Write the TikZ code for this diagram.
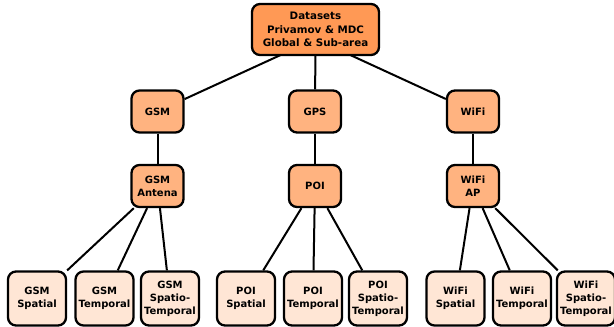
\documentclass[tikz,border=0pt]{standalone}
\usepackage{fontspec}
\setmainfont{DejaVu Sans}
\pgfdeclarelayer{bg}
\pgfsetlayers{bg,main}
\begin{document}
\begin{tikzpicture}[x=1pt,y=-1pt,
  box/.style={draw=black,line width=2.3pt,rounded corners=8pt,align=center,
    font=\bfseries\fontsize{10}{13}\selectfont,inner sep=0pt},
  topbox/.style={box,fill=topc,minimum width=127pt,minimum height=51pt,font=\bfseries\fontsize{10.3}{13.3}\selectfont},
  midbox/.style={box,fill=midc,minimum width=52pt,minimum height=42pt},
  leafbox/.style={box,fill=leafc,minimum width=58pt,minimum height=54pt},
  conn/.style={line width=2pt}]
\definecolor{topc}{HTML}{FF9955}
\definecolor{midc}{HTML}{FFB380}
\definecolor{leafc}{HTML}{FFE6D5}
\useasboundingbox (0,0) rectangle (614,327);
\node[topbox] (top) at (315.5,29.5) {Datasets\\Privamov \& MDC\\Global \& Sub-area};
\coordinate (topo) at (315.5,39);
\node[midbox] (gsm) at (157.5,111.5) {GSM};
\node[midbox] (gps) at (315,111.5) {GPS};
\node[midbox] (wifi) at (473,111.5) {WiFi};
\node[midbox] (ant) at (157.5,186) {GSM\\Antena};
\node[midbox] (poi) at (315,186) {POI};
\node[midbox] (ap) at (473,186) {WiFi\\AP};
\node[leafbox] (gs) at (37,298.5) {GSM\\Spatial};
\node[leafbox] (gt) at (104.5,298.5) {GSM\\Temporal};
\node[leafbox] (gst) at (170,298.5) {GSM\\Spatio-\\Temporal};
\node[leafbox] (ps) at (246,298.5) {POI\\Spatial};
\node[leafbox] (pt) at (313,298.5) {POI\\Temporal};
\node[leafbox] (pst) at (378,298.5) {POI\\Spatio-\\Temporal};
\node[leafbox] (ws) at (455.5,298.5) {WiFi\\Spatial};
\node[leafbox] (wt) at (522,298.5) {WiFi\\Temporal};
\node[leafbox] (wst) at (586,298.5) {WiFi\\Spatio-\\Temporal};
\begin{pgfonlayer}{bg}
\draw[conn] (topo) -- (gsm);
\draw[conn] (topo) -- (gps);
\draw[conn] (topo) -- (wifi);
\end{pgfonlayer}
\draw[conn] (gsm) -- (ant);
\draw[conn] (gps) -- (poi);
\draw[conn] (wifi) -- (ap);
\draw[conn] (ant) -- (gs);
\draw[conn] (ant) -- (gt);
\draw[conn] (ant) -- (gst);
\draw[conn] (poi) -- (ps);
\draw[conn] (poi) -- (pt);
\draw[conn] (poi) -- (pst);
\draw[conn] (ap) -- (ws);
\draw[conn] (ap) -- (wt);
\draw[conn] (ap) -- (wst);
\end{tikzpicture}
\end{document}
